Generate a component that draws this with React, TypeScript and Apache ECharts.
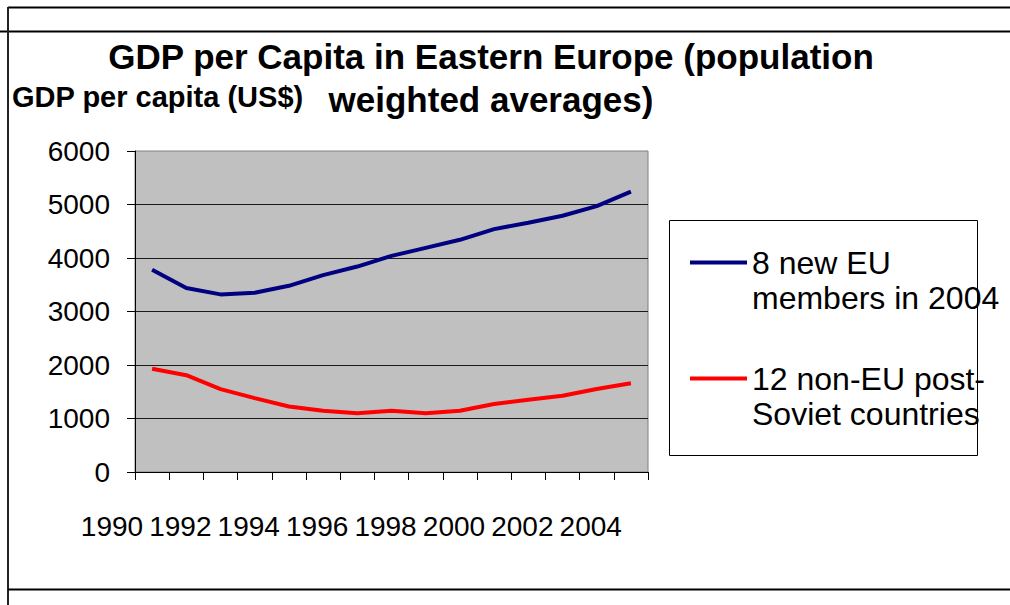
import React, { useEffect, useRef } from "react";
import * as echarts from "echarts";

const years = ["1990","1991","1992","1993","1994","1995","1996","1997","1998","1999","2000","2001","2002","2003","2004"];
const euMembers = [3780, 3440, 3320, 3350, 3480, 3680, 3840, 4040, 4190, 4340, 4540, 4660, 4790, 4970, 5240];
const postSoviet = [1930, 1810, 1550, 1380, 1225, 1145, 1100, 1145, 1100, 1145, 1270, 1350, 1425, 1550, 1660];
const seriesNames = ["8 new EU\nmembers in 2004", "12 non-EU post-\nSoviet countries"];
const titleText = "GDP per Capita in Eastern Europe (population\nweighted averages)";
const yAxisTitle = "GDP per capita (US$)";

const FONT = "'Liberation Sans', Arial, sans-serif";

export default function App() {
  const ref = useRef<HTMLDivElement>(null);
  useEffect(() => {
    if (!ref.current) return;
    const chart = echarts.init(ref.current, undefined, { renderer: "svg" });
    chart.setOption({
      animation: false,
      backgroundColor: "#ffffff",
      textStyle: { fontFamily: FONT },
      title: [
        {
          text: titleText,
          left: 491,
          top: 35,
          textAlign: "center",
          padding: 0,
          textStyle: { fontFamily: FONT, fontSize: 35, fontWeight: "bold", color: "#000", lineHeight: 43 },
        },
        {
          text: yAxisTitle,
          left: 12,
          top: 82,
          padding: 0,
          textStyle: { fontFamily: FONT, fontSize: 29, fontWeight: "bold", color: "#000", lineHeight: 29 },
        },
      ],
      grid: {
        left: 135,
        right: 362,
        top: 151,
        bottom: 133,
        show: true,
        backgroundColor: "#c0c0c0",
        borderColor: "#808080",
        borderWidth: 1,
        containLabel: false,
      },
      legend: {
        orient: "vertical",
        left: 690,
        top: 210,
        padding: 0,
        itemGap: 11,
        itemWidth: 57,
        itemHeight: 4,
        icon: "rect",
        formatter: (name: string) => " \n" + name,
        textStyle: { fontFamily: FONT, fontSize: 32, color: "#000", lineHeight: 35 },
        data: seriesNames,
      },
      xAxis: {
        type: "category",
        data: years,
        boundaryGap: true,
        axisLine: { show: true, lineStyle: { color: "#000", width: 1 } },
        axisTick: { show: true, interval: 0, length: 8, lineStyle: { color: "#000" } },
        axisLabel: {
          interval: 1,
          fontFamily: FONT,
          fontSize: 28,
          color: "#000",
          margin: 40,
          align: "right",
          padding: [0, 9, 0, 0],
        },
        splitLine: { show: false },
      },
      yAxis: {
        type: "value",
        min: 0,
        max: 6000,
        interval: 1000,
        axisLine: { show: true, lineStyle: { color: "#000", width: 1 } },
        axisTick: { show: true, length: 8, lineStyle: { color: "#000" } },
        axisLabel: {
          fontFamily: FONT,
          fontSize: 28,
          color: "#000",
          margin: 25,
          formatter: (v: number) => String(v),
        },
        splitLine: { show: true, showMaxLine: false, lineStyle: { color: "#1a1a1a", width: 1 } },
      },
      series: [
        {
          name: seriesNames[0],
          type: "line",
          data: euMembers,
          showSymbol: false,
          symbol: "none",
          lineStyle: { color: "#000080", width: 4 },
          itemStyle: { color: "#000080" },
        },
        {
          name: seriesNames[1],
          type: "line",
          data: postSoviet,
          showSymbol: false,
          symbol: "none",
          lineStyle: { color: "#ff0000", width: 4 },
          itemStyle: { color: "#ff0000" },
        },
      ],
      graphic: [
        { type: "rect", z: 0, shape: { x: 669.5, y: 220.5, width: 308, height: 235 }, style: { fill: "#ffffff", stroke: "#000", lineWidth: 1 } },
        { type: "line", z: 10, shape: { x1: 8, y1: 7.5, x2: 1010, y2: 7.5 }, style: { stroke: "#000", lineWidth: 2 } },
        { type: "line", z: 10, shape: { x1: 0, y1: 31.5, x2: 1010, y2: 31.5 }, style: { stroke: "#000", lineWidth: 2 } },
        { type: "line", z: 10, shape: { x1: 8, y1: 7, x2: 8, y2: 605 }, style: { stroke: "#222", lineWidth: 2 } },
        { type: "line", z: 10, shape: { x1: 8, y1: 589.5, x2: 1010, y2: 589.5 }, style: { stroke: "#000", lineWidth: 2 } },
      ],
    });
    return () => chart.dispose();
  }, []);
  return (
    <div
      ref={ref}
      style={{ position: "absolute", left: 0, top: 0, width: 1010, height: 605 }}
    />
  );
}
